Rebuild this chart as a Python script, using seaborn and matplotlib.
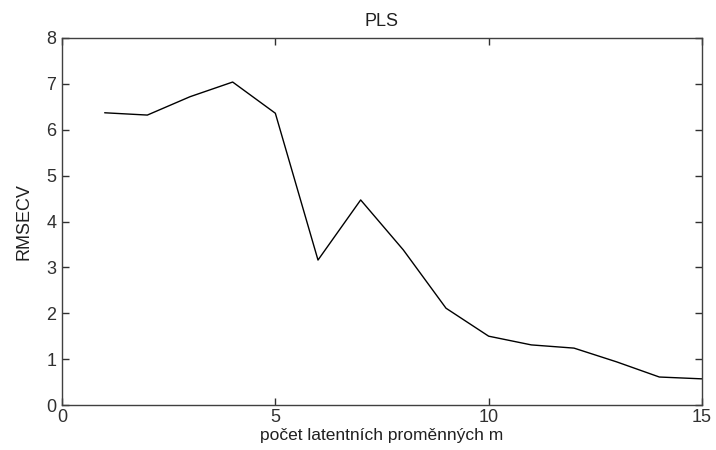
import matplotlib
matplotlib.use("Agg")
import matplotlib.pyplot as plt
import seaborn as sns
import pandas as pd

m_values = [1, 2, 3, 4, 5, 6, 7, 8, 9, 10, 11, 12, 13, 14, 15]
rmsecv = [6.37, 6.32, 6.72, 7.04, 6.36, 3.16, 4.47, 3.38, 2.11, 1.50, 1.31, 1.24, 0.94, 0.61, 0.57]
x_ticks = [0, 5, 10, 15]
y_ticks = [0, 1, 2, 3, 4, 5, 6, 7, 8]

sns.set_theme(style="white")
plt.rcParams['font.family'] = ['Liberation Sans', 'DejaVu Sans']

df = pd.DataFrame({"m": m_values, "RMSECV": rmsecv})

fig = plt.figure(figsize=(7.16, 4.5), dpi=100)
ax = fig.add_axes([62/716, 45/450, 640/716, 367/450])
sns.lineplot(data=df, x="m", y="RMSECV", ax=ax, color="black", linewidth=1.0)

ax.set_xlim(0, 15)
ax.set_ylim(0, 8)
ax.set_xticks(x_ticks)
ax.set_yticks(y_ticks)
ax.tick_params(direction="in", length=5, width=1, labelsize=13, colors="#303030",
               top=True, right=True, bottom=True, left=True, pad=4)
ax.tick_params(axis="x", pad=3)
ax.tick_params(labeltop=False, labelright=False)
for s in ax.spines.values():
    s.set_color("#404040")
    s.set_linewidth(1.0)
ax.set_xlabel("počet latentních proměnných m", fontsize=12.5, color="#202020", labelpad=1)
ax.set_ylabel("RMSECV", fontsize=13, color="#202020", labelpad=10)
ax.set_title("PLS", fontsize=13, color="#202020", pad=9)

fig.savefig("out.png", dpi=100)
